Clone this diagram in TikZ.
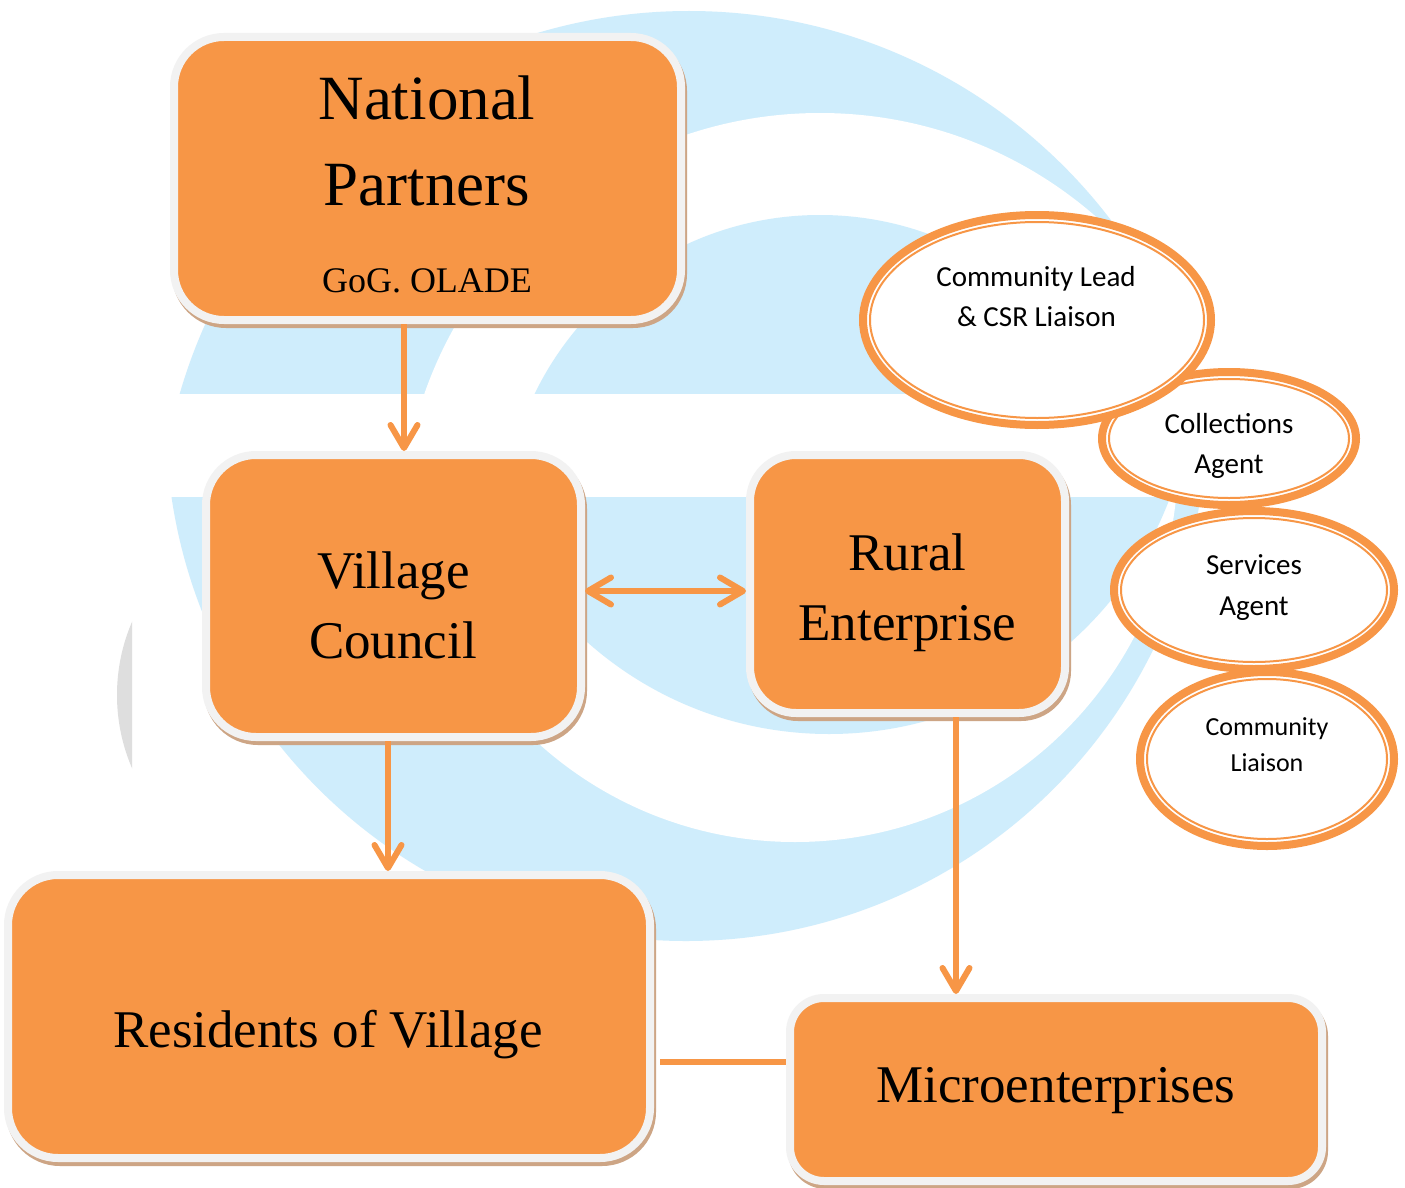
\documentclass[tikz,border=0pt]{standalone}
\usepackage{fontspec}
\setmainfont{Liberation Serif}
\newfontfamily\calfont{Carlito}
\usetikzlibrary{shapes.geometric,arrows.meta,calc}
\definecolor{ora}{RGB}{247,150,70}
\definecolor{boxrim}{RGB}{242,242,242}
\definecolor{shade}{RGB}{205,165,133}
\definecolor{logo}{RGB}{207,237,252}
\definecolor{logogray}{RGB}{222,222,222}
\begin{document}
\begin{tikzpicture}[x=1pt,y=-1pt,
  box/.style={rectangle, draw=boxrim, fill=ora, line width=8pt, inner sep=0pt,
    preaction={draw=shade, fill=shade, line width=8pt, transform canvas={xshift=2pt,yshift=-4pt}}},
  ell/.style={ellipse, draw=ora, fill=white, line width=8pt, inner sep=0pt},
  ring/.style={draw=ora, line width=2pt},
  bigtxt/.style={anchor=base, inner sep=0pt, font=\fontsize{53}{53}\selectfont},
  ovtxt/.style={anchor=base, inner sep=0pt, font=\calfont\fontsize{29}{29}\selectfont},
  conn/.style={draw=ora, line width=6pt},
  arr/.style={conn, -{Straight Barb[length=23pt,width=27pt,round]}},
  dbl/.style={conn, {Straight Barb[length=23pt,width=27pt,round]}-{Straight Barb[length=23pt,width=27pt,round]}}
]
\useasboundingbox (0,0) rectangle (1405,1188);
\fill[white] (0,0) rectangle (1405,1188);

% background logo
\begin{scope}
  \clip (0,0) rectangle (1405,393);
  \fill[logo] (689,541) circle[radius=530];
  \fill[white] (820,532) circle[radius=419];
  \fill[logo] (820,532) circle[radius=317];
\end{scope}
\begin{scope}
  \clip (0,497) rectangle (1405,1188);
  \fill[logo] (686,421) circle[radius=520];
  \fill[white] (795,459) circle[radius=383];
  \fill[logo] (829,370) circle[radius=364];
\end{scope}
\begin{scope}
  \clip (0,0) rectangle (132,1188);
  \fill[logogray] (302,695) circle[radius=185];
\end{scope}

% boxes
\node[box, minimum width=507pt, minimum height=283pt, rounded corners=50pt] (np) at (427.5,178.5) {};
\node[box, minimum width=375pt, minimum height=282pt, rounded corners=50pt] (vc) at (393.5,596) {};
\node[box, minimum width=315pt, minimum height=258pt, rounded corners=46pt] (re) at (907.5,584) {};
\node[box, minimum width=642pt, minimum height=283pt, rounded corners=50pt] (res) at (329,1016.5) {};
\node[box, minimum width=532pt, minimum height=183pt, rounded corners=34pt] (me) at (1056,1089.5) {};

% connectors
\coordinate (a1) at ($(np.south)+(-23.5,0)$);
\draw[arr] (a1) -- (a1 |- vc.north);
\coordinate (a2) at ($(vc.south)+(-5.5,0)$);
\draw[arr] (a2) -- (a2 |- res.north);
\coordinate (a3) at ($(vc.east)+(0,-5)$);
\draw[dbl] (a3) -- (a3 -| re.west);
\coordinate (a4) at ($(re.south)+(48.5,0)$);
\draw[arr] (a4) -- (a4 |- me.north);
\coordinate (a5) at ($(res.east)+(6,45.5)$);
\draw[conn] (a5) -- (a5 -| me.west);

% box texts
\node[bigtxt, font=\fontsize{63}{63}\selectfont] (np1) at (427,120) {National};
\node[bigtxt, font=\fontsize{63}{63}\selectfont] (np2) at (427,205) {Partners};
\node[bigtxt, font=\fontsize{36}{36}\selectfont] (np3) at (427,292) {GoG. OLADE};
\node[bigtxt] (vc1) at (393.5,588) {Village};
\node[bigtxt] (vc2) at (393,658) {Council};
\node[bigtxt] (re1) at (907.5,570) {Rural};
\node[bigtxt] (re2) at (907.5,640) {Enterprise};
\node[bigtxt] (res1) at (328,1047) {Residents of Village};
\node[bigtxt] (me1) at (1056,1102) {Microenterprises};

% ellipses
\node[ell, minimum width=254pt, minimum height=174pt] (cli) at (1267,759) {};
\draw[ring] (cli.center) ellipse [x radius=120, y radius=80];
\node[ovtxt, font=\calfont\fontsize{26}{26}\selectfont] (cli1) at (1267,735) {Community};
\node[ovtxt, font=\calfont\fontsize{26}{26}\selectfont] (cli2) at (1267,771.7) {Liaison};

\node[ell, minimum width=280pt, minimum height=158pt] (sa) at (1254,590) {};
\draw[ring] (sa.center) ellipse [x radius=133, y radius=72];
\node[ovtxt] (sa1) at (1254,574.6) {Services};
\node[ovtxt] (sa2) at (1254,615.4) {Agent};

\node[ell, minimum width=254pt, minimum height=133pt] (ca) at (1229,438.5) {};
\draw[ring] (ca.center) ellipse [x radius=120, y radius=59.5];
\node[ovtxt] (ca1) at (1229,433.6) {Collections};
\node[ovtxt] (ca2) at (1229,473.6) {Agent};

\node[ell, minimum width=348pt, minimum height=210pt] (cl) at (1037,320) {};
\draw[ring] (cl.center) ellipse [x radius=167, y radius=98];
\node[ovtxt] (cl1) at (1036,286) {Community Lead};
\node[ovtxt] (cl2) at (1036.5,326) {\& CSR Liaison};
\end{tikzpicture}
\end{document}
